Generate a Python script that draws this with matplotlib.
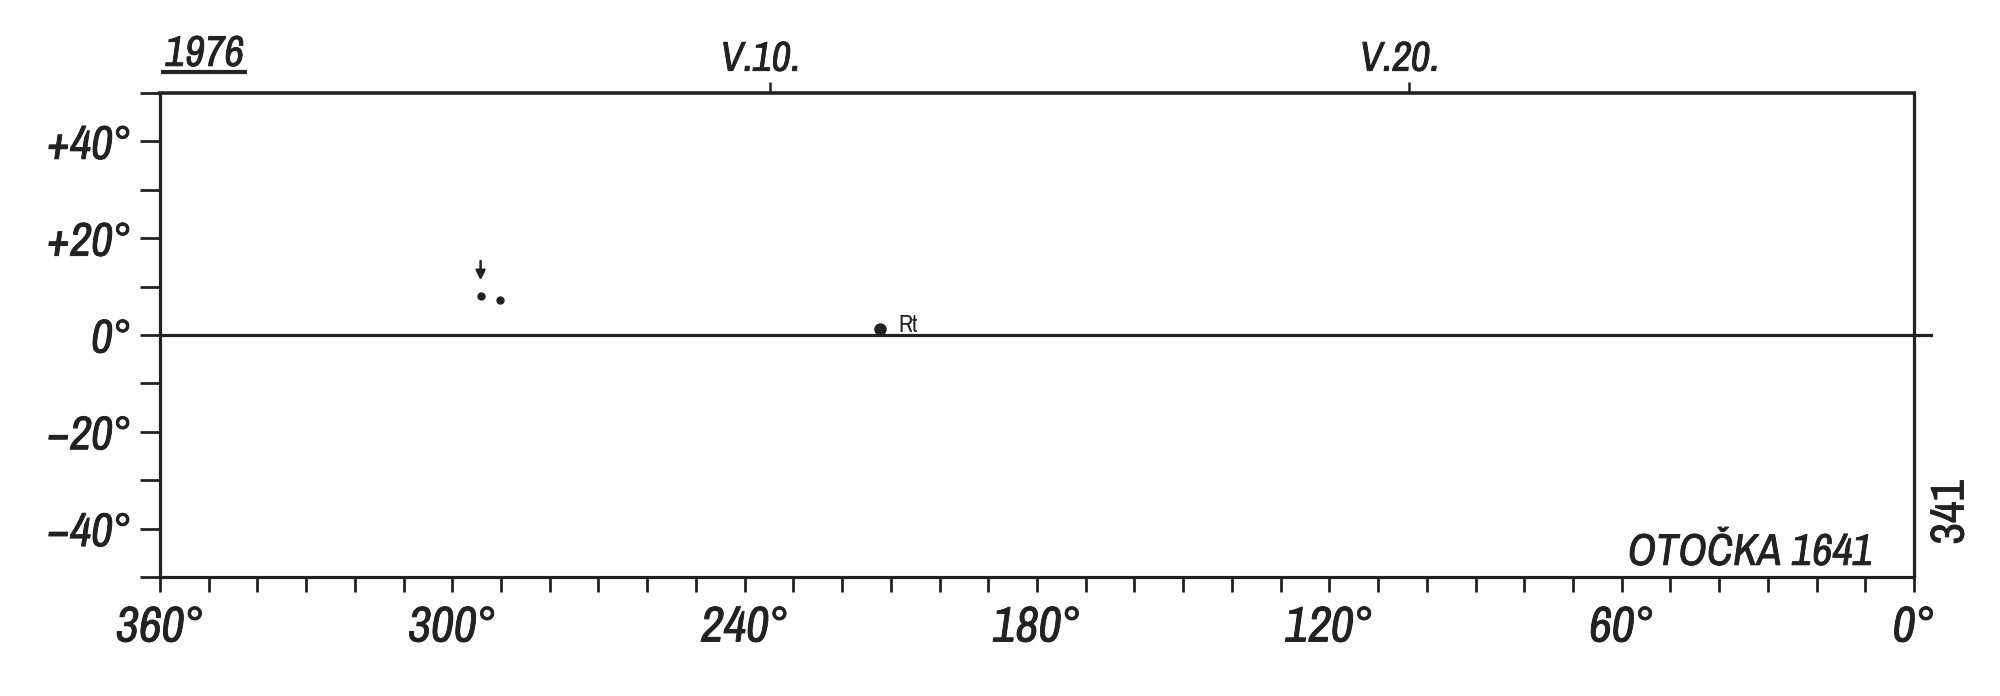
import os
import matplotlib
matplotlib.use("Agg")
import matplotlib.pyplot as plt
import matplotlib.font_manager as fm
import matplotlib.patheffects as pe
from matplotlib.font_manager import FontProperties
from matplotlib.transforms import ScaledTranslation

# ---------------- data ----------------
year_label = "1976"
date_labels = ["V.10.", "V.20."]
date_lon = [234.8, 103.6]            # Carrington longitude of the dates

lon_ticks_major = [360, 300, 240, 180, 120, 60, 0]
lon_labels = ["360°", "300°", "240°", "180°", "120°", "60°", "0°"]
lat_ticks_major = [40, 20, 0, -20, -40]
lat_labels = ["+40°", "+20°", "0°", "\u221220°", "\u221240°"]

small_lon = [294.2, 290.3]           # small spots
small_lat = [8.0, 7.3]
big_lon = [212.2]                    # larger spot
big_lat = [1.2]
big_names = ["Rt"]
arrow_lon = [294.2]
arrow_tail_lat = [15.3]
arrow_tip_lat = [11.3]

title_right = "OTOČKA 1641"
page_number = "341"

INK = "#222222"


# ---------------- fonts ----------------
def pick_font(italic):
    cands = []
    for f in fm.fontManager.ttflist:
        s = (f.name + " " + os.path.basename(f.fname)).lower()
        if not ("condensed" in s or "narrow" in s):
            continue
        if any(k in s for k in ("bold", "light", "thin", "black", "medium", "semi", "extra")):
            continue
        it = f.style in ("italic", "oblique")
        if it != italic:
            continue
        narrow = "narrow" in s
        pri = 0 if narrow else (1 if "dejavu" in s else 2)
        cands.append((pri, f.fname, narrow))
    if cands:
        cands.sort()
        return FontProperties(fname=cands[0][1]), cands[0][2]
    return FontProperties(family="Roboto", style="italic" if italic else "normal"), False


FP_IT, NARROW_IT = pick_font(True)
FP_UP, NARROW_UP = pick_font(False)
K_IT = 1.0 if NARROW_IT else 0.82
K_UP = 1.0 if NARROW_UP else 0.82

THICK = [pe.withStroke(linewidth=0.6, foreground=INK)]


def fp(base, size):
    p = base.copy()
    p.set_size(size)
    return p


# ---------------- figure ----------------
fig = plt.figure(figsize=(20, 6.96), dpi=100)
fig.patch.set_facecolor("white")
ax = fig.add_axes([0.080, 0.171, 0.877, 0.6954])
ax.set_xlim(360, 0)
ax.set_ylim(-50, 50)

for side, sp in ax.spines.items():
    sp.set_linewidth(2.3)
    sp.set_color(INK)
ax.spines["top"].set_linewidth(2.6)

# longitude ticks
ax.set_xticks(lon_ticks_major)
ax.set_xticklabels(lon_labels, fontproperties=fp(FP_IT, 36 * K_IT), color=INK)
ax.set_xticks(range(0, 361, 10), minor=True)
ax.tick_params(axis="x", which="both", direction="out", length=10.5, width=2.0,
               color=INK, pad=10, bottom=True, top=False)

# latitude ticks
ax.set_yticks(lat_ticks_major)
ax.set_yticklabels(lat_labels, fontproperties=fp(FP_IT, 34 * K_IT), color=INK)
ax.set_yticks(range(-50, 51, 10), minor=True)
ax.tick_params(axis="y", which="both", direction="out", length=14.5, width=2.0,
               color=INK, pad=6, left=True, right=False)

for lab in ax.get_xticklabels() + ax.get_yticklabels():
    lab.set_path_effects(THICK)

# equator line, slightly overshooting the right frame
ax.axhline(0, xmin=0, xmax=1.0097, color=INK, lw=2.3, clip_on=False, zorder=2)

# date axis on top
sec = ax.secondary_xaxis("top")
sec.set_xticks(date_lon)
sec.set_xticklabels(date_labels, fontproperties=fp(FP_IT, 30 * K_IT), color=INK)
sec.tick_params(axis="x", direction="out", length=8, width=1.8, color=INK, pad=3)
sec.spines["top"].set_visible(False)
for lab in sec.get_xticklabels():
    lab.set_transform(lab.get_transform() + ScaledTranslation(-7 / 72, 0, fig.dpi_scale_trans))
    lab.set_path_effects(THICK)

# year label, underlined
ax.text(0.003, 1.056, year_label, transform=ax.transAxes, ha="left", va="baseline",
        fontproperties=fp(FP_IT, 31 * K_IT), color=INK, path_effects=THICK)
ax.plot([0.0005, 0.0497], [1.043, 1.043], transform=ax.transAxes, color=INK,
        lw=3.0, clip_on=False, solid_capstyle="butt")

# spots
ax.plot(small_lon, small_lat, "o", ms=5, color=INK, mec=INK, zorder=3)
ax.plot(big_lon, big_lat, "o", ms=8, color=INK, mec=INK, zorder=3)
for lo, la, nm in zip(big_lon, big_lat, big_names):
    ax.annotate(nm, xy=(lo, la), xytext=(13, 3), textcoords="offset points",
                ha="left", va="center", color=INK,
                fontproperties=fp(FP_UP, 17))
for lo, t0, t1 in zip(arrow_lon, arrow_tail_lat, arrow_tip_lat):
    ax.annotate("", xy=(lo, t1), xytext=(lo, t0),
                arrowprops=dict(arrowstyle="-|>", lw=1.8, color=INK,
                                mutation_scale=14, shrinkA=0, shrinkB=0))

# labels inside / right of the frame
ax.text(0.9766, 0.025, title_right, transform=ax.transAxes, ha="right", va="baseline",
        fontproperties=fp(FP_IT, 32 * K_IT), color=INK, path_effects=THICK)
fig.text(0.975, 0.264, page_number, rotation=90, ha="center", va="center",
         fontproperties=fp(FP_UP, 34 * K_UP), color=INK, path_effects=THICK)

fig.savefig("out.png", dpi=100, facecolor="white")
